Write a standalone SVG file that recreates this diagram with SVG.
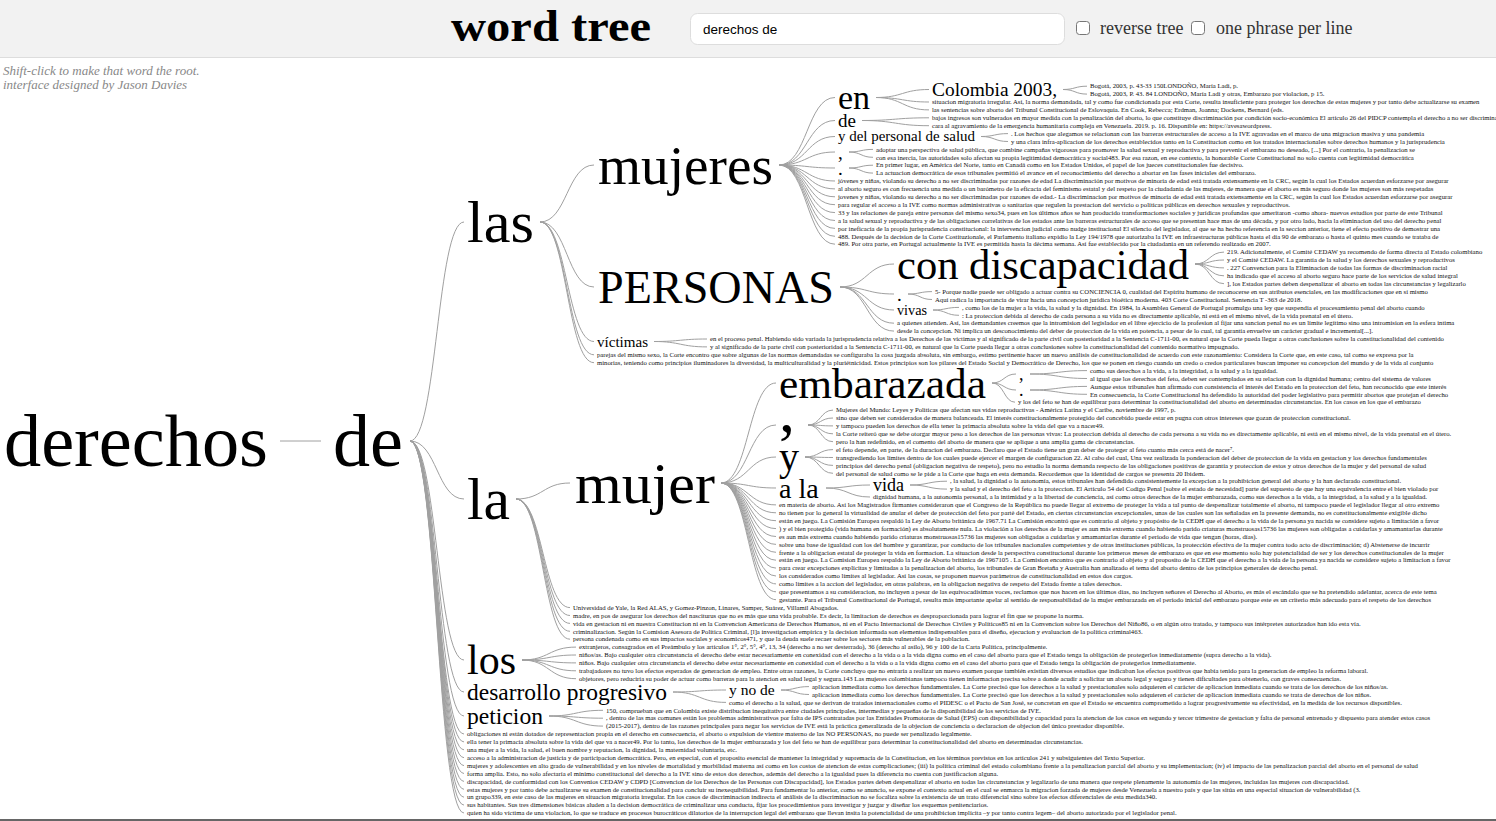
<svg xmlns="http://www.w3.org/2000/svg" width="1496" height="821" viewBox="0 0 1496 821">
<style>
.bg{fill:#fff}
.hdr{fill:#f2f2f2}
.w{font-family:"Liberation Serif","DejaVu Serif",serif;fill:#000}
.lf{font-family:"Liberation Serif","DejaVu Serif",serif;font-size:6.7px;fill:#111}
.lk{fill:none;stroke:#a0a0a0;stroke-width:1}
.ui{font-family:"Liberation Serif",serif;font-size:18px;fill:#333}
.note{font-family:"Liberation Serif",serif;font-style:italic;font-size:13px;fill:#888}
.cb{fill:#fff;stroke:#767676;stroke-width:1}
</style>
<rect class="bg" x="0" y="0" width="1496" height="821"/>
<g id="header">
<rect class="hdr" x="0" y="0" width="1496" height="57"/>
<line x1="0" y1="57.5" x2="1496" y2="57.5" stroke="#ddd"/>
<text x="451" y="41" font-family="Liberation Serif,serif" font-weight="bold" font-size="44" textLength="200" lengthAdjust="spacingAndGlyphs">word tree</text>
<rect x="690.5" y="13.5" width="374" height="31" rx="7" fill="#fff" stroke="#ddd"/>
<text x="703" y="34" font-family="Liberation Sans,Arial,sans-serif" font-size="13.5" fill="#000">derechos de</text>
<rect class="cb" x="1076.5" y="21.5" width="13" height="13" rx="3"/>
<text class="ui" x="1100" y="34">reverse tree</text>
<rect class="cb" x="1191.5" y="21.5" width="13" height="13" rx="3"/>
<text class="ui" x="1216" y="34">one phrase per line</text>
</g>
<g id="notes">
<text class="note" x="3" y="75">Shift-click to make that word the root.</text>
<text class="note" x="3" y="89">interface designed by Jason Davies</text>
</g>
<rect x="0" y="819" width="1496" height="2" fill="#666"/>

<g id="connectors">
<path class="lk" d="M280 441L321 441"/>
<path class="lk" d="M410 441C437 441 437 222 464 222M410 441C437 441 437 499 464 499M410 441C437 441 437 660 464 660M410 441C437 441 437 692 464 692M410 441C437 441 437 716 464 716"/>
<path class="lk" d="M410 441C437 441 437 734 464 734M410 441C437 441 437 741.9 464 741.9M410 441C437 441 437 749.8 464 749.8M410 441C437 441 437 757.7 464 757.7M410 441C437 441 437 765.6 464 765.6M410 441C437 441 437 773.5 464 773.5M410 441C437 441 437 781.4 464 781.4M410 441C437 441 437 789.3 464 789.3M410 441C437 441 437 797.2 464 797.2M410 441C437 441 437 805.1 464 805.1M410 441C437 441 437 813 464 813"/>
<path class="lk" d="M540 222C567 222 567 165 594 165M540 222C567 222 567 287 594 287M540 222C567 222 567 341.5 594 341.5M540 222C567 222 567 354.8 594 354.8M540 222C567 222 567 362.7 594 362.7"/>
<path class="lk" d="M779 165C807 165 807 97.5 835 97.5M779 165C807 165 807 120.5 835 120.5M779 165C807 165 807 136.5 835 136.5M779 165C807 165 807 152 835 152M779 165C807 165 807 168 835 168M779 165C807 165 807 181 835 181M779 165C807 165 807 188.9 835 188.9M779 165C807 165 807 196.8 835 196.8M779 165C807 165 807 204.7 835 204.7M779 165C807 165 807 212.6 835 212.6M779 165C807 165 807 220.5 835 220.5M779 165C807 165 807 228.4 835 228.4M779 165C807 165 807 236.3 835 236.3M779 165C807 165 807 244.2 835 244.2"/>
<path class="lk" d="M876 97.5C902.5 97.5 902.5 89.5 929 89.5M876 97.5C902.5 97.5 902.5 102 929 102M876 97.5C902.5 97.5 902.5 109.9 929 109.9"/>
<path class="lk" d="M1063 89.5C1075 89.5 1075 86.2 1087 86.2M1063 89.5C1075 89.5 1075 94.1 1087 94.1"/>
<path class="lk" d="M862 120.5C895.5 120.5 895.5 117.8 929 117.8M862 120.5C895.5 120.5 895.5 125.7 929 125.7"/>
<path class="lk" d="M981 136.5C994.5 136.5 994.5 133.6 1008 133.6M981 136.5C994.5 136.5 994.5 141.5 1008 141.5"/>
<path class="lk" d="M849 152C861 152 861 149.4 873 149.4M849 152C861 152 861 157.3 873 157.3M849 168C861 168 861 165.2 873 165.2M849 168C861 168 861 173.1 873 173.1"/>
<path class="lk" d="M840 287C867 287 867 264 894 264M840 287C867 287 867 294 894 294M840 287C867 287 867 310 894 310M840 287C867 287 867 323.2 894 323.2M840 287C867 287 867 331.1 894 331.1"/>
<path class="lk" d="M1195 264C1209.5 264 1209.5 252.1 1224 252.1M1195 264C1209.5 264 1209.5 260 1224 260M1195 264C1209.5 264 1209.5 267.9 1224 267.9M1195 264C1209.5 264 1209.5 275.8 1224 275.8M1195 264C1209.5 264 1209.5 283.7 1224 283.7"/>
<path class="lk" d="M908 294C920 294 920 291.6 932 291.6M908 294C920 294 920 299.5 932 299.5M933 310C946 310 946 307.4 959 307.4M933 310C946 310 946 315.3 959 315.3"/>
<path class="lk" d="M654 341.5C680.5 341.5 680.5 339 707 339M654 341.5C680.5 341.5 680.5 346.9 707 346.9"/>
<path class="lk" d="M516 499C543 499 543 483 570 483M516 499C543 499 543 607.6 570 607.6M516 499C543 499 543 615.5 570 615.5M516 499C543 499 543 623.4 570 623.4M516 499C543 499 543 631.3 570 631.3M516 499C543 499 543 639.2 570 639.2"/>
<path class="lk" d="M721 483C748.5 483 748.5 383 776 383M721 483C748.5 483 748.5 425 776 425M721 483C748.5 483 748.5 457 776 457M721 483C748.5 483 748.5 488 776 488M721 483C748.5 483 748.5 504.9 776 504.9M721 483C748.5 483 748.5 512.8 776 512.8M721 483C748.5 483 748.5 520.7 776 520.7M721 483C748.5 483 748.5 528.6 776 528.6M721 483C748.5 483 748.5 536.5 776 536.5M721 483C748.5 483 748.5 544.4 776 544.4M721 483C748.5 483 748.5 552.3 776 552.3M721 483C748.5 483 748.5 560.2 776 560.2M721 483C748.5 483 748.5 568.1 776 568.1M721 483C748.5 483 748.5 576 776 576M721 483C748.5 483 748.5 583.9 776 583.9M721 483C748.5 483 748.5 591.8 776 591.8M721 483C748.5 483 748.5 599.7 776 599.7"/>
<path class="lk" d="M992 383C1004 383 1004 374 1016 374M992 383C1004 383 1004 390 1016 390M992 383C1004 383 1004 402.2 1015 402.2"/>
<path class="lk" d="M1030 374C1058.5 374 1058.5 370.6 1087 370.6M1030 374C1058.5 374 1058.5 378.5 1087 378.5M1030 390C1058.5 390 1058.5 386.4 1087 386.4M1030 390C1058.5 390 1058.5 394.3 1087 394.3"/>
<path class="lk" d="M808 425C820.5 425 820.5 410.1 833 410.1M808 425C820.5 425 820.5 418 833 418M808 425C820.5 425 820.5 425.9 833 425.9M808 425C820.5 425 820.5 433.8 833 433.8M808 425C820.5 425 820.5 441.7 833 441.7"/>
<path class="lk" d="M805 457C819 457 819 449.6 833 449.6M805 457C819 457 819 457.5 833 457.5M805 457C819 457 819 465.4 833 465.4M805 457C819 457 819 473.3 833 473.3"/>
<path class="lk" d="M826 488C848 488 848 485 870 485M826 488C848 488 848 497 870 497M910 485C928.5 485 928.5 481.2 947 481.2M910 485C928.5 485 928.5 489.1 947 489.1"/>
<path class="lk" d="M522 660C549 660 549 647.1 576 647.1M522 660C549 660 549 655 576 655M522 660C549 660 549 662.9 576 662.9M522 660C549 660 549 670.8 576 670.8M522 660C549 660 549 678.7 576 678.7"/>
<path class="lk" d="M673 692C699.5 692 699.5 690 726 690M673 692C699.5 692 699.5 702.4 726 702.4M781 690C795 690 795 686.6 809 686.6M781 690C795 690 795 694.5 809 694.5"/>
<path class="lk" d="M549 716C576 716 576 710.3 603 710.3M549 716C576 716 576 718.2 603 718.2M549 716C576 716 576 726.1 603 726.1"/>
</g>

<g id="n-derechos"><text class="w" x="4" y="466" font-size="74" textLength="264" lengthAdjust="spacingAndGlyphs">derechos</text></g>
<g id="n-de"><text class="w" x="333" y="466" font-size="74" textLength="70" lengthAdjust="spacingAndGlyphs">de</text></g>
<g id="n-las"><text class="w" x="467" y="242.4" font-size="60" textLength="67" lengthAdjust="spacingAndGlyphs">las</text></g>
<g id="n-la"><text class="w" x="467" y="519.4" font-size="60" textLength="43" lengthAdjust="spacingAndGlyphs">la</text></g>
<g id="n-los"><text class="w" x="467" y="674.3" font-size="42" textLength="49" lengthAdjust="spacingAndGlyphs">los</text></g>
<g id="n-desarrollo"><text class="w" x="467" y="700" font-size="23.5" textLength="200" lengthAdjust="spacingAndGlyphs">desarrollo progresivo</text></g>
<g id="n-peticion"><text class="w" x="467" y="724" font-size="23.5" textLength="76" lengthAdjust="spacingAndGlyphs">peticion</text></g>
<g id="n-mujeres"><text class="w" x="598" y="183.7" font-size="55" textLength="175" lengthAdjust="spacingAndGlyphs">mujeres</text></g>
<g id="n-personas"><text class="w" x="598" y="302.6" font-size="46" textLength="236" lengthAdjust="spacingAndGlyphs">PERSONAS</text></g>
<g id="n-victimas"><text class="w" x="597" y="346.6" font-size="15.5" textLength="51" lengthAdjust="spacingAndGlyphs">víctimas</text></g>
<g id="n-mujer"><text class="w" x="575" y="502.7" font-size="58" textLength="140" lengthAdjust="spacingAndGlyphs">mujer</text></g>
<g id="n-en"><text class="w" x="838" y="109" font-size="34">en</text></g>
<g id="n-colombia"><text class="w" x="932" y="96.1" font-size="19.5" textLength="125" lengthAdjust="spacingAndGlyphs">Colombia 2003,</text></g>
<g id="n-de2"><text class="w" x="838" y="127" font-size="19">de</text></g>
<g id="n-ydps"><text class="w" x="838" y="141.4" font-size="14.5" textLength="137" lengthAdjust="spacingAndGlyphs">y del personal de salud</text></g>
<g id="n-comma1"><text class="w" x="838" y="158.5" font-size="19">,</text></g>
<g id="n-period1"><text class="w" x="838" y="174.5" font-size="19">.</text></g>
<g id="n-condisc"><text class="w" x="897" y="278.6" font-size="43" textLength="292" lengthAdjust="spacingAndGlyphs">con discapacidad</text></g>
<g id="n-period2"><text class="w" x="897" y="300.5" font-size="19">.</text></g>
<g id="n-vivas"><text class="w" x="897" y="315" font-size="14.5" textLength="30" lengthAdjust="spacingAndGlyphs">vivas</text></g>
<g id="n-embarazada"><text class="w" x="779" y="397.6" font-size="43" textLength="207" lengthAdjust="spacingAndGlyphs">embarazada</text></g>
<g id="n-comma-emb"><text class="w" x="1019" y="380" font-size="18">,</text></g>
<g id="n-period-emb"><text class="w" x="1019" y="396" font-size="18">.</text></g>
<g id="n-bigcomma"><text class="w" x="779" y="432" font-size="64">,</text></g>
<g id="n-y"><text class="w" x="779" y="470" font-size="40">y</text></g>
<g id="n-ala"><text class="w" x="779" y="497.5" font-size="28">a la</text></g>
<g id="n-vida"><text class="w" x="873" y="491" font-size="18">vida</text></g>
<g id="n-ynode"><text class="w" x="729" y="695.3" font-size="15.5">y no de</text></g>

<g id="leaves">
<g id="leaf-01"><text class="lf" x="1090" y="88.4">Bogotá, 2003, p. 43-33 150LONDOÑO, María Ladi, p.</text></g>
<g id="leaf-02"><text class="lf" x="1090" y="96.3">Bogotá, 2003, P. 43. 84 LONDOÑO, María Ladi y otras, Embarazo por violacion, p 15.</text></g>
<g id="leaf-03"><text class="lf" x="932" y="104.2">situacion migratoria irregular. Así, la norma demandada, tal y como fue condicionada por esta Corte, resulta insuficiente para proteger los derechos de estas mujeres y por tanto debe actualizarse su examen</text></g>
<g id="leaf-04"><text class="lf" x="932" y="112.1">las sentencias sobre aborto del Tribunal Constitucional de Eslovaquia. En Cook, Rebecca; Erdman, Joanna; Dockens, Bernard (eds.</text></g>
<g id="leaf-05"><text class="lf" x="932" y="120">bajos ingresos son vulnerados en mayor medida con la penalización del aborto, lo que constituye discriminación por condición socio-económica El artículo 26 del PIDCP contempla el derecho a no ser discriminado</text></g>
<g id="leaf-06"><text class="lf" x="932" y="127.9">cara al agravamiento de la emergencia humanitaria compleja en Venezuela. 2019. p. 16. Disponible en: https://avesawordpress.</text></g>
<g id="leaf-07"><text class="lf" x="1011" y="135.8">. Los hechos que alegamos se relacionan con las barreras estructurales de acceso a la IVE agravadas en el marco de una migracion masiva y una pandemia</text></g>
<g id="leaf-08"><text class="lf" x="1011" y="143.7">y una clara infra-aplicacion de los derechos establecidos tanto en la Constitucion como en los tratados internacionales sobre derechos humanos y la jurisprudencia</text></g>
<g id="leaf-09"><text class="lf" x="876" y="151.6">adoptar una perspectiva de salud pública, que combine campañas vigorosas para promover la salud sexual y reproductiva y para prevenir el embarazo no deseado, [...] Por el contrario, la penalizacion se</text></g>
<g id="leaf-10"><text class="lf" x="876" y="159.5">con esa inercia, las autoridades solo afectan su propia legitimidad democrática y social483. Por esa razon, en ese contexto, la honorable Corte Constitucional no solo cuenta con legitimidad democrática</text></g>
<g id="leaf-11"><text class="lf" x="876" y="167.4">En primer lugar, en América del Norte, tanto en Canadá como en los Estados Unidos, el papel de los jueces constitucionales fue decisivo.</text></g>
<g id="leaf-12"><text class="lf" x="876" y="175.3">La actuacion democrática de esos tribunales permitió el avance en el reconocimiento del derecho a abortar en las fases iniciales del embarazo.</text></g>
<g id="leaf-13"><text class="lf" x="838" y="183.2">jóvenes y niñas, violando su derecho a no ser discriminadas por razones de edad La discriminación por motivos de minoría de edad está tratada extensamente en la CRC, según la cual los Estados acuerdan esforzarse por asegurar</text></g>
<g id="leaf-14"><text class="lf" x="838" y="191.1">al aborto seguro es con frecuencia una medida o un barómetro de la eficacia del feminismo estatal y del respeto por la ciudadanía de las mujeres, de manera que el aborto es más seguro donde las mujeres son más respetadas</text></g>
<g id="leaf-15"><text class="lf" x="838" y="199">jovenes y niñas, violando su derecho a no ser discriminadas por razones de edad.- La discriminacion por motivos de minoría de edad está tratada extensamente en la CRC, según la cual los Estados acuerdan esforzarse por asegurar</text></g>
<g id="leaf-16"><text class="lf" x="838" y="206.9">para regular el acceso a la IVE como normas administrativas o sanitarias que regulen la prestacion del servicio o políticas públicas en derechos sexuales y reproductivos.</text></g>
<g id="leaf-17"><text class="lf" x="838" y="214.8">33 y las relaciones de pareja entre personas del mismo sexo34, pues en los últimos años se han producido transformaciones sociales y jurídicas profundas que ameritaron -como ahora- nuevos estudios por parte de este Tribunal</text></g>
<g id="leaf-18"><text class="lf" x="838" y="222.7">a la salud sexual y reproductiva y de las obligaciones correlativas de los estados ante las barreras estructurales de acceso que se presentan hace mas de una década, y por otro lado, hacia la eliminacion del uso del derecho penal</text></g>
<g id="leaf-19"><text class="lf" x="838" y="230.6">por ineficacia de la propia jurisprudencia constitucional: la intervencion judicial como nudge institucional El silencio del legislador, al que se ha hecho referencia en la seccion anterior, tiene el efecto positivo de demostrar una</text></g>
<g id="leaf-20"><text class="lf" x="838" y="238.5">488. Después de la decision de la Corte Costituzionale, el Parlamento italiano expidio la Ley 194/1978 que autorizaba la IVE en infraestructuras públicas hasta el día 90 de embarazo o hasta el quinto mes cuando se trataba de</text></g>
<g id="leaf-21"><text class="lf" x="838" y="246.4">489. Por otra parte, en Portugal actualmente la IVE es permitida hasta la décima semana. Así fue establecido por la ciudadania en un referendo realizado en 2007.</text></g>
<g id="leaf-22"><text class="lf" x="1227" y="254.3">219. Adicionalmente, el Comité CEDAW ya recomendo de forma directa al Estado colombiano</text></g>
<g id="leaf-23"><text class="lf" x="1227" y="262.2">y el Comité CEDAW. La garantía de la salud y los derechos sexuales y reproductivos</text></g>
<g id="leaf-24"><text class="lf" x="1227" y="270.1">. 227 Convencion para la Eliminacion de todas las formas de discriminacion racial</text></g>
<g id="leaf-25"><text class="lf" x="1227" y="278">ha indicado que el acceso al aborto seguro hace parte de los servicios de salud integral</text></g>
<g id="leaf-26"><text class="lf" x="1227" y="285.9">], los Estados partes deben despenalizar el aborto en todas las circunstancias y legalizarlo</text></g>
<g id="leaf-27"><text class="lf" x="935" y="293.8">5- Porque nadie puede ser obligado a actuar contra su CONCIENCIA 0, cualidad del Espíritu humano de reconocerse en sus atributos esenciales, en las modificaciones que en sí mismo</text></g>
<g id="leaf-28"><text class="lf" x="935" y="301.7">Aquí radica la importancia de virar hacia una concepcion jurídica bioética moderna. 403 Corte Constitucional. Sentencia T -363 de 2018.</text></g>
<g id="leaf-29"><text class="lf" x="962" y="309.6">, como los de la mujer a la vida, la salud y la dignidad. En 1984, la Asamblea General de Portugal promulgo una ley que suspendia el procesamiento penal del aborto cuando</text></g>
<g id="leaf-30"><text class="lf" x="962" y="317.5">: La proteccion debida al derecho de cada persona a su vida no es directamente aplicable, ni está en el mismo nivel, de la vida prenatal en el útero.</text></g>
<g id="leaf-31"><text class="lf" x="897" y="325.4">a quienes atienden. Así, las demandantes creemos que la intromision del legislador en el libre ejercicio de la profesion al fijar una sancion penal no es un límite legítimo sino una intromision en la esfera intima</text></g>
<g id="leaf-32"><text class="lf" x="897" y="333.3">desde la concepcion. Ni implica un desconocimiento del deber de proteccion de la vida en potencia, a pesar de lo cual, tal garantía envuelve un carácter gradual e incremental[...].</text></g>
<g id="leaf-33"><text class="lf" x="710" y="341.2">en el proceso penal. Habiendo sido variada la jurisprudencia relativa a los Derechos de las víctimas y al significado de la parte civil con posterioridad a la Sentencia C-1711-00, es natural que la Corte pueda llegar a otras conclusiones sobre la constitucionalidad del contenido</text></g>
<g id="leaf-34"><text class="lf" x="710" y="349.1">y al significado de la parte civil con posterioridad a la Sentencia C-1711-00, es natural que la Corte pueda llegar a otras conclusiones sobre la constitucionalidad del contenido normativo impugnado.</text></g>
<g id="leaf-35"><text class="lf" x="597" y="357">parejas del mismo sexo, la Corte encontro que sobre algunas de las normas demandadas se configuraba la cosa juzgada absoluta, sin embargo, estimo pertinente hacer un nuevo análisis de constitucionalidad de acuerdo con este razonamiento: Considera la Corte que, en este caso, tal como se expresa por la</text></g>
<g id="leaf-36"><text class="lf" x="597" y="364.9">minorias, teniendo como principios iluminadores la diversidad, la multiculturalidad y la pluriétnicidad. Estos principios son los pilares del Estado Social y Democrático de Derecho, los que se ponen en riesgo cuando un credo o credos particulares buscan imponer su concepcion del mundo y de la vida al conjunto</text></g>
<g id="leaf-37"><text class="lf" x="1090" y="372.8">como sus derechos a la vida, a la integridad, a la salud y a la igualdad.</text></g>
<g id="leaf-38"><text class="lf" x="1090" y="380.7">al igual que los derechos del feto, deben ser contemplados en su relacion con la dignidad humana; centro del sistema de valores</text></g>
<g id="leaf-39"><text class="lf" x="1090" y="388.6">Aunque estos tribunales han afirmado con consistencia el interés del Estado en la proteccion del feto, han reconocido que este interés</text></g>
<g id="leaf-40"><text class="lf" x="1090" y="396.5">En consecuencia, la Corte Constitucional ha defendido la autoridad del poder legislativo para permitir abortos que protejan el derecho</text></g>
<g id="leaf-41"><text class="lf" x="1018" y="404.4">y los del feto se han de equilibrar para determinar la constitucionalidad del aborto en determinadas circunstancias. En los casos en los que el embarazo</text></g>
<g id="leaf-42"><text class="lf" x="836" y="412.3">Mujeres del Mundo: Leyes y Politicas que afectan sus vidas reproductivas - América Latina y el Caribe, noviembre de 1997, p.</text></g>
<g id="leaf-43"><text class="lf" x="836" y="420.2">sino que deben ser considerados de manera balanceada. El interés constitucionalmente protegido del concebido puede estar en pugna con otros intereses que gozan de proteccion constitucional.</text></g>
<g id="leaf-44"><text class="lf" x="836" y="428.1">y tampoco pueden los derechos de ella tener la primacía absoluta sobre la vida del que va a nacer49.</text></g>
<g id="leaf-45"><text class="lf" x="836" y="436">la Corte reiteró que se debe otorgar mayor peso a los derechos de las personas vivas: La proteccion debida al derecho de cada persona a su vida no es directamente aplicable, ni está en el mismo nivel, de la vida prenatal en el útero.</text></g>
<g id="leaf-46"><text class="lf" x="836" y="443.9">pero la han redefinido, en el comento del aborto de manera que se aplique a una amplia gama de circunstancias.</text></g>
<g id="leaf-47"><text class="lf" x="836" y="451.8">el feto depende, en parte, de la duracion del embarazo. Declaro que el Estado tiene un gran deber de proteger al feto cuanto más cerca está de nacer⁷.</text></g>
<g id="leaf-48"><text class="lf" x="836" y="459.7">transgrediendo los límites dentro de los cuales puede ejercer el margen de configuracion 22. Al cabo del cual, Una vez realizada la ponderacion del deber de proteccion de la vida en gestacion y los derechos fundamentales</text></g>
<g id="leaf-49"><text class="lf" x="836" y="467.6">principios del derecho penal (obligacion negativa de respeto), pero no estudio la norma demanda respecto de las obligaciones positivas de garantía y proteccion de estos y otros derechos de la mujer y del personal de salud</text></g>
<g id="leaf-50"><text class="lf" x="836" y="475.5">del personal de salud como se le pide a la Corte que haga en esta demanda. Recordemos que la identidad de cargos se presenta 20 Ibidem.</text></g>
<g id="leaf-51"><text class="lf" x="950" y="483.4">, la salud, la dignidad o la autonomía, estos tribunales han defendido consistentemente la excepcion a la prohibicion general del aborto y la han declarado constitucional.</text></g>
<g id="leaf-52"><text class="lf" x="950" y="491.3">y la salud y el derecho del feto a la proteccion. El Artículo 54 del Codigo Penal [sobre el estado de necesidad] parte del supuesto de que hay una equivalencia entre el bien violado por</text></g>
<g id="leaf-53"><text class="lf" x="873" y="499.2">dignidad humana, a la autonomía personal, a la intimidad y a la libertad de conciencia, así como otros derechos de la mujer embarazada, como sus derechos a la vida, a la integridad, a la salud y a la igualdad.</text></g>
<g id="leaf-54"><text class="lf" x="779" y="507.1">en materia de aborto. Así los Magistrados firmantes consideraron que el Congreso de la República no puede llegar al extremo de proteger la vida a tal punto de despenalizar totalmente el aborto, ni tampoco puede el legislador llegar al otro extremo</text></g>
<g id="leaf-55"><text class="lf" x="779" y="515">no tienen por lo general la virtualidad de anular el deber de protección del feto por partè del Estado, en ciertas circunstancias excepcionales, unas de las cuales son las señaladas en la presente demanda, no es constitucionalmente exigible dicho</text></g>
<g id="leaf-56"><text class="lf" x="779" y="522.9">están en juego. La Comisión Europea respaldó la Ley de Aborto británica de 1967.71 La Comisión encontró que es contrario al objeto y propósito de la CEDH que el derecho a la vida de la persona ya nacida se considere sujeto a limitación a favor</text></g>
<g id="leaf-57"><text class="lf" x="779" y="530.8">) y el bien protegido (vida humana en formación) es absolutamente nula. La violación a los derechos de la mujer es aun más extrema cuando habiendo parido criaturas monstruosas15736 las mujeres son obligadas a cuidarlas y amamantarlas durante</text></g>
<g id="leaf-58"><text class="lf" x="779" y="538.7">es aun más extrema cuando habiendo parido criaturas monstruosas15736 las mujeres son obligadas a cuidarlas y amamantarlas durante el periodo de vida que tengan (horas, días).</text></g>
<g id="leaf-59"><text class="lf" x="779" y="546.6">sobre una base de igualdad con los del hombre y garantizar, por conducto de los tribunales nacionales competentes y de otras instituciones públicas, la protección efectiva de la mujer contra todo acto de discriminación; d) Abstenerse de incurrir</text></g>
<g id="leaf-60"><text class="lf" x="779" y="554.5">frente a la obligacion estatal de proteger la vida en formacion. La situacion desde la perspectiva constitucional durante los primeros meses de embarazo es que en ese momento solo hay potencialidad de ser y los derechos constitucionales de la mujer</text></g>
<g id="leaf-61"><text class="lf" x="779" y="562.4">están en juego. La Comision Europea respaldo la Ley de Aborto británica de 1967105 . La Comision encontro que es contrario al objeto y al proposito de la CEDH que el derecho a la vida de la persona ya nacida se considere sujeto a limitacion a favor</text></g>
<g id="leaf-62"><text class="lf" x="779" y="570.3">para crear excepciones explícitas y limitadas a la penalizacion del aborto, los tribunales de Gran Bretaña y Australia han analizado el tema del aborto dentro de los principios generales de derecho penal.</text></g>
<g id="leaf-63"><text class="lf" x="779" y="578.2">los considerados como límites al legislador. Así las cosas, se proponen nuevos parámetros de constitucionalidad en estos dos cargos.</text></g>
<g id="leaf-64"><text class="lf" x="779" y="586.1">como límites a la accion del legislador, en otras palabras, en la obligacion negativa de respeto del Estado frente a tales derechos.</text></g>
<g id="leaf-65"><text class="lf" x="779" y="594">que presentamos a su consideracion, no incluyen a pesar de las equivocadísimas voces, reclamos que nos hacen en los últimos días, no incluyen señores el Derecho al Aborto, es más el escándalo que se ha pretendido adelantar, acerca de este tema</text></g>
<g id="leaf-66"><text class="lf" x="779" y="601.9">gestante. Para el Tribunal Constitucional de Portugal, resulta más importante apelar al sentido de responsabilidad de la mujer embarazada en el período inicial del embarazo porque este es un criterio más adecuado para el respeto de los derechos</text></g>
<g id="leaf-67"><text class="lf" x="573" y="609.8">Universidad de Yale, la Red ALAS, y Gomez-Pinzon, Linares, Samper, Suárez, Villamil Abogados.</text></g>
<g id="leaf-68"><text class="lf" x="573" y="617.7">madre, en pos de asegurar los derechos del nasciturus que no es más que una vida probable. Es decir, la limitacion de derechos es desproporcionada para lograr el fin que se propone la norma.</text></g>
<g id="leaf-69"><text class="lf" x="573" y="625.6">vida en gestacion ni en nuestra Constitucion ni en la Convencion Americana de Derechos Humanos, ni en el Pacto Internacional de Derechos Civiles y Políticos85 ni en la Convencion sobre los Derechos del Niño86, o en algún otro tratado, y tampoco sus intérpretes autorizados han ido esta vía.</text></g>
<g id="leaf-70"><text class="lf" x="573" y="633.5">criminalizacion. Según la Comision Asesora de Política Criminal, [l]a investigacion empírica y la decision informada son elementos indispensables para el diseño, ejecucion y evaluacion de la política criminal463.</text></g>
<g id="leaf-71"><text class="lf" x="573" y="641.4">persona condenada como en sus impactos sociales y economicos471, y que la deuda suele recaer sobre los sectores más vulnerables de la poblacion.</text></g>
<g id="leaf-72"><text class="lf" x="579" y="649.3">extranjeros, consagrados en el Preámbulo y los artículos 1°, 2°, 5°, 4°, 13, 34 (derecho a no ser desterrado), 36 (derecho al asilo), 96 y 100 de la Carta Política, principalmente.</text></g>
<g id="leaf-73"><text class="lf" x="579" y="657.2">niños/as. Bajo cualquier otra circunstancia el derecho debe estar necesariamente en conexidad con el derecho a la vida o a la vida digna como en el caso del aborto para que el Estado tenga la obligación de protegerlos inmediatamente (supra derecho a la vida).</text></g>
<g id="leaf-74"><text class="lf" x="579" y="665.1">niños. Bajo cualquier otra circunstancia el derecho debe estar necesariamente en conexidad con el derecho a la vida o a la vida digna como en el caso del aborto para que el Estado tenga la obligación de protegerlos inmediatamente.</text></g>
<g id="leaf-75"><text class="lf" x="579" y="673">trabajadores no tuvo los efectos esperados de generacion de empleo. Entre otras razones, la Corte concluyo que no entraría a realizar un nuevo examen porque también existían diversos estudios que indicaban los efectos positivos que había tenido para la generacion de empleo la reforma laboral.</text></g>
<g id="leaf-76"><text class="lf" x="579" y="680.9">objetores, pero reduciría su poder de actuar como barreras para la atencion en salud legal y segura.143 Las mujeres colombianas tampoco tienen informacion precisa sobre a donde acudir a solicitar un aborto legal y seguro y tienen dificultades para obtenerlo, con graves consecuencias.</text></g>
<g id="leaf-77"><text class="lf" x="812" y="688.8">aplicacion inmediata como los derechos fundamentales. La Corte precisó que los derechos a la salud y prestacionales solo adquieren el carácter de aplicacion inmediata cuando se trata de los derechos de los niños/as.</text></g>
<g id="leaf-78"><text class="lf" x="812" y="696.7">aplicacion inmediata como los derechos fundamentales. La Corte precisó que los derechos a la salud y prestacionales solo adquieren el carácter de aplicacion inmediata cuando se trata de derechos de los niños.</text></g>
<g id="leaf-79"><text class="lf" x="729" y="704.6">como el derecho a la salud, que se derivan de tratados internacionales como el PIDESC o el Pacto de San José, se concretan en que el Estado se encuentra comprometido a lograr progresivamente su efectividad, en la medida de los recursos disponibles.</text></g>
<g id="leaf-80"><text class="lf" x="606" y="712.5">150, comprueban que en Colombia existe distribucion inequitativa entre ciudades principales, intermedias y pequeñas de la disponibilidad de los servicios de IVE.</text></g>
<g id="leaf-81"><text class="lf" x="606" y="720.4">, dentro de las mas comunes están los problemas administrativos por falta de IPS contratadas por las Entidades Promotoras de Salud (EPS) con disponibilidad y capacidad para la atencion de los casos en segundo y tercer trimestre de gestacion y falta de personal entrenado y dispuesto para atender estos casos</text></g>
<g id="leaf-82"><text class="lf" x="606" y="728.3">(2015-2017), dentro de las razones principales para negar los servicios de IVE está la práctica generalizada de la objecion de conciencia o declaracion de objecion del único prestador disponible.</text></g>
<g id="leaf-83"><text class="lf" x="467" y="736.2">obligaciones ni están dotados de representacion propia en el derecho en consecuencia, el aborto o expulsion de vientre materno de las NO PERSONAS, no puede ser penalizado legalmente.</text></g>
<g id="leaf-84"><text class="lf" x="467" y="744.1">ella tener la primacía absoluta sobre la vida del que va a nacer49. Por lo tanto, los derechos de la mujer embarazada y los del feto se han de equilibrar para determinar la constitucionalidad del aborto en determinadas circunstancias.</text></g>
<g id="leaf-85"><text class="lf" x="467" y="752">una mujer a la vida, la salud, el buen nombre y reputacion, la dignidad, la maternidad voluntaria, etc.</text></g>
<g id="leaf-86"><text class="lf" x="467" y="759.9">acceso a la administracion de justicia y de participacion democrática. Pero, en especial, con el proposito esencial de mantener la integridad y supremacía de la Constitucion, en los términos previstos en los artículos 241 y subsiguientes del Texto Superior.</text></g>
<g id="leaf-87"><text class="lf" x="467" y="767.8">mujeres y adolescentes en alto grado de vulnerabilidad y en los niveles de mortalidad y morbilidad materna así como en los costos de atencion de estas complicaciones; (iii) la política criminal del estado colombiano frente a la penalizacion parcial del aborto y su implementacion; (iv) el impacto de las penalizacion parcial del aborto en el personal de salud</text></g>
<g id="leaf-88"><text class="lf" x="467" y="775.7">forma amplia. Esto, no solo afectaría el mínimo constitucional del derecho a la IVE sino de estos dos derechos, además del derecho a la igualdad pues la diferencia no cuenta con justificacion alguna.</text></g>
<g id="leaf-89"><text class="lf" x="467" y="783.6">discapacidad, de conformidad con los Convenios CEDAW y CDPD [Convencion de los Derechos de las Personas con Discapacidad], los Estados partes deben despenalizar el aborto en todas las circunstancias y legalizarlo de una manera que respete plenamente la autonomía de las mujeres, incluidas las mujeres con discapacidad.</text></g>
<g id="leaf-90"><text class="lf" x="467" y="791.5">estas mujeres y por tanto debe actualizarse su examen de constitucionalidad para concluir su inexequibilidad. Para fundamentar lo anterior, como se anuncio, se expone el contexto actual en el cual se enmarca la migracion forzada de mujeres desde Venezuela a nuestro país y que las sitúa en una especial situacion de vulnerabilidad (3.</text></g>
<g id="leaf-91"><text class="lf" x="467" y="799.4">un grupo339, en este caso de las mujeres en situacion migratoria irregular. En los casos de discriminacion indirecta el análisis de la discriminacion no se focaliza sobre la existencia de un trato diferencial sino sobre los efectos diferenciales de esta medida340.</text></g>
<g id="leaf-92"><text class="lf" x="467" y="807.3">sus habitantes. Sus tres dimensiones básicas aluden a la decision democrática de criminalizar una conducta, fijar los procedimientos para investigar y juzgar y diseñar los esquemas penitenciarios.</text></g>
<g id="leaf-93"><text class="lf" x="467" y="815.2">quien ha sido víctima de una violacion, lo que se traduce en procesos burocráticos dilatorios de la interrupcion legal del embarazo que llevan insita la potencialidad de una prohibicion implícita –y por tanto contra legem– del aborto autorizado por el legislador penal.</text></g>
</g>
</svg>
